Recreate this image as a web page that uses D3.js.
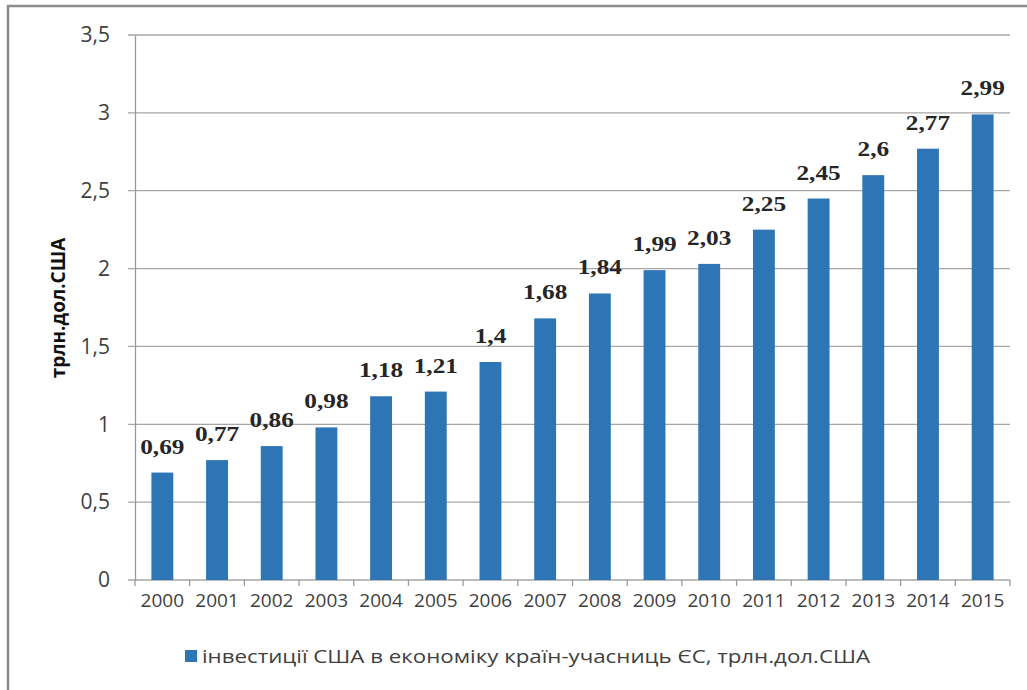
<!DOCTYPE html>
<html><head><meta charset="utf-8">
<script src="https://cdn.jsdelivr.net/npm/d3@7"></script>
<style>body{margin:0;background:#fff}</style>
</head><body>
<svg id="c" width="1027" height="690"></svg>
<script>
const years = ["2000","2001","2002","2003","2004","2005","2006","2007","2008","2009","2010","2011","2012","2013","2014","2015"];
const values = [0.69,0.77,0.86,0.98,1.18,1.21,1.4,1.68,1.84,1.99,2.03,2.25,2.45,2.6,2.77,2.99];
const valueLabels = ["0,69","0,77","0,86","0,98","1,18","1,21","1,4","1,68","1,84","1,99","2,03","2,25","2,45","2,6","2,77","2,99"];
const yTicks = [0,0.5,1,1.5,2,2.5,3,3.5];
const yTickLabels = ["0","0,5","1","1,5","2","2,5","3","3,5"];
const yTitle = "трлн.дол.США";
const legendText = "інвестиції США в економіку країн-учасниць ЄС, трлн.дол.США";

const svg = d3.select("#c");
const barColor = "#2E75B6";
const sans = "'Open Sans', 'DejaVu Sans', sans-serif";
// frame
svg.append("rect").attr("x",8).attr("y",6).attr("width",1040).attr("height",700)
  .attr("fill","none").attr("stroke","#8c8c8c").attr("stroke-width",2.5);

const x = d3.scaleBand().domain(years).range([135,1010]).paddingInner(0.6).paddingOuter(0.3);
const y = d3.scaleLinear().domain([0,3.5]).range([580,35]);

// gridlines
svg.append("g").selectAll("line").data(yTicks).join("line")
  .attr("x1",128).attr("x2",1010).attr("y1",d=>y(d)).attr("y2",d=>y(d))
  .attr("stroke","#a6a6a6").attr("stroke-width",1.3);

// y axis
const yAxis = d3.axisLeft(y).tickValues(yTicks).tickFormat((d,i)=>yTickLabels[i]).tickSize(0).tickPadding(25);
const gy = svg.append("g").attr("transform","translate(135,0)").call(yAxis);
gy.select(".domain").attr("stroke","#9a9a9a").attr("stroke-width",1.3);
gy.selectAll("text").attr("font-family",sans).attr("font-size",21).attr("fill","#404040");

// x axis
const xb = d3.scaleLinear().domain([0,years.length]).range([135,1010]);
const xAxis = d3.axisBottom(x).tickSize(0).tickPadding(14);
const gx = svg.append("g").attr("transform","translate(0,580)").call(xAxis);
gx.select(".domain").remove();
gx.selectAll("text").attr("font-family",sans).attr("font-size",19).attr("fill","#404040");
svg.append("g").selectAll("line").data(d3.range(years.length+1)).join("line")
  .attr("x1",d=>xb(d)).attr("x2",d=>xb(d)).attr("y1",580).attr("y2",586)
  .attr("stroke","#9a9a9a").attr("stroke-width",1.3);

// bars
svg.append("g").selectAll("rect").data(values).join("rect")
  .attr("x",(d,i)=>x(years[i])).attr("width",x.bandwidth())
  .attr("y",d=>y(d)).attr("height",d=>y(0)-y(d)).attr("fill",barColor);

// value labels
svg.append("g").selectAll("text").data(values).join("text")
  .attr("transform",(d,i)=>`translate(${x(years[i])+x.bandwidth()/2},${y(d)-19}) scale(1.15,1)`)
  .attr("text-anchor","middle").attr("font-family","'Liberation Serif', 'Times New Roman', serif")
  .attr("font-weight","bold").attr("font-size",22).attr("fill","#262626")
  .text((d,i)=>valueLabels[i]);

// y title
svg.append("text").attr("transform","translate(65,308) rotate(-90)")
  .attr("text-anchor","middle").attr("font-family",sans)
  .attr("font-weight","bold").attr("font-size",19).attr("fill","#111").text(yTitle);

// legend
svg.append("rect").attr("x",185).attr("y",650).attr("width",12).attr("height",12).attr("fill",barColor);
svg.append("text").attr("x",202).attr("y",663).attr("font-family",sans)
  .attr("font-size",19).attr("fill","#404040")
  .attr("textLength",668).attr("lengthAdjust","spacingAndGlyphs").text(legendText);
</script>
</body></html>
